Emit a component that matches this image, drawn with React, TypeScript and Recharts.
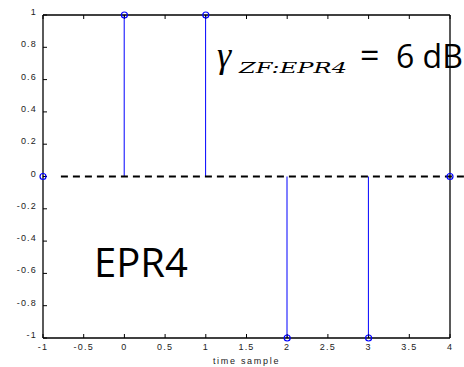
import { ComposedChart, XAxis, YAxis, Bar, Scatter, ReferenceLine } from 'recharts';

// EPR4 target taps, one per time sample
const samples = [-1, 0, 1, 2, 3, 4];
const taps = [0, 1, 1, -1, -1, 0];

const xTicks = [-1, -0.5, 0, 0.5, 1, 1.5, 2, 2.5, 3, 3.5, 4];
const yTicks = [-1, -0.8, -0.6, -0.4, -0.2, 0, 0.2, 0.4, 0.6, 0.8, 1];
const zeroLineSpan = [-0.78, 4.2];

const data = samples.map((n, i) => ({ n, tap: taps[i] }));

const BLUE = '#0000ff';
const TICK_FONT = { fontFamily: '"Liberation Sans", Arial, sans-serif', fontSize: 9, fill: '#222', letterSpacing: 1.2 };
const FRAME = { stroke: '#000', strokeWidth: 1.3 };

const XTick = (p: any) => (
  <text x={p.x} y={p.y + 14} textAnchor="middle" style={TICK_FONT}>
    {String(p.payload.value)}
  </text>
);

const YTick = (p: any) => (
  <text x={p.x} y={p.y} textAnchor="end" style={TICK_FONT}>
    {String(p.payload.value)}
  </text>
);

const Blank = () => <g />;

const Stem = (p: any) => <circle cx={p.cx} cy={p.cy} r={3} fill="none" stroke={BLUE} strokeWidth={1.2} />;

export default function App() {
  return (
    <div style={{ position: 'absolute', left: 0, top: 0, width: 464, height: 367, background: '#fff' }}>
      <ComposedChart width={464} height={367} data={data} margin={{ top: 14, right: 0, bottom: 0, left: 0 }}>
        <XAxis
          dataKey="n"
          type="number"
          domain={[-1, 4]}
          ticks={xTicks}
          interval={0}
          height={29}
          tickSize={-4}
          tickMargin={2}
          tick={XTick}
          axisLine={FRAME}
          tickLine={{ stroke: '#000' }}
          label={{ value: 'time sample', position: 'insideBottom', offset: 3, style: { ...TICK_FONT, letterSpacing: 1.7 } }}
        />
        <XAxis
          xAxisId="top"
          orientation="top"
          dataKey="n"
          type="number"
          domain={[-1, 4]}
          ticks={xTicks}
          interval={0}
          height={1}
          tickSize={-4}
          tick={Blank}
          axisLine={FRAME}
          tickLine={{ stroke: '#000' }}
        />
        <YAxis
          type="number"
          domain={[-1, 1]}
          ticks={yTicks}
          interval={0}
          width={43}
          tickSize={-4}
          tickMargin={10}
          tick={YTick}
          axisLine={FRAME}
          tickLine={{ stroke: '#000' }}
        />
        <YAxis
          yAxisId="right"
          orientation="right"
          type="number"
          domain={[-1, 1]}
          ticks={yTicks}
          interval={0}
          width={14}
          tickSize={-4}
          tick={Blank}
          axisLine={FRAME}
          tickLine={{ stroke: '#000' }}
        />
        <ReferenceLine
          segment={[{ x: zeroLineSpan[0], y: 0 }, { x: zeroLineSpan[1], y: 0 }]}
          ifOverflow="visible"
          stroke="#000"
          strokeWidth={2}
          strokeDasharray="7 5"
        />
        <Bar dataKey="tap" barSize={1} fill={BLUE} isAnimationActive={false} />
        <Scatter dataKey="tap" shape={Stem} isAnimationActive={false} />
      </ComposedChart>
      <svg width={464} height={367} style={{ position: 'absolute', left: 0, top: 0, pointerEvents: 'none' }}>
        <text x={217} y={67} style={{ fontFamily: '"Liberation Serif", serif', fontStyle: 'italic', fontSize: 36 }}>γ</text>
        <text
          x={239}
          y={73}
          textLength={108}
          lengthAdjust="spacingAndGlyphs"
          style={{ fontFamily: '"DejaVu Serif", serif', fontStyle: 'italic', fontSize: 14 }}
        >
          ZF:EPR4
        </text>
        <text x={360} y={68} style={{ fontFamily: '"Open Sans", sans-serif', fontSize: 34 }}>=</text>
        <text x={396} y={68} style={{ fontFamily: '"Open Sans", sans-serif', fontSize: 32 }}>6 dB</text>
        <text x={94} y={277} style={{ fontFamily: '"Open Sans", sans-serif', fontSize: 40 }}>EPR4</text>
      </svg>
    </div>
  );
}
